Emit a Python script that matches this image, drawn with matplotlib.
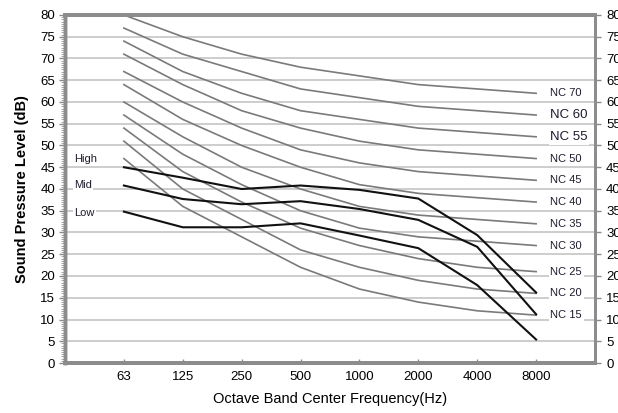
import matplotlib
matplotlib.use("Agg")
import matplotlib.pyplot as plt
import numpy as np

plt.rcParams['font.family'] = ['Liberation Sans', 'DejaVu Sans']

freqs = ["63", "125", "250", "500", "1000", "2000", "4000", "8000"]

nc_labels = ["NC 70", "NC 60", "NC 55", "NC 50", "NC 45", "NC 40",
             "NC 35", "NC 30", "NC 25", "NC 20", "NC 15"]
nc_70 = [80, 75, 71, 68, 66, 64, 63, 62]
nc_60 = [77, 71, 67, 63, 61, 59, 58, 57]
nc_55 = [74, 67, 62, 58, 56, 54, 53, 52]
nc_50 = [71, 64, 58, 54, 51, 49, 48, 47]
nc_45 = [67, 60, 54, 49, 46, 44, 43, 42]
nc_40 = [64, 56, 50, 45, 41, 39, 38, 37]
nc_35 = [60, 52, 45, 40, 36, 34, 33, 32]
nc_30 = [57, 48, 41, 35, 31, 29, 28, 27]
nc_25 = [54, 44, 37, 31, 27, 24, 22, 21]
nc_20 = [51, 40, 33, 26, 22, 19, 17, 16]
nc_15 = [47, 36, 29, 22, 17, 14, 12, 11]
nc_curves = [nc_70, nc_60, nc_55, nc_50, nc_45, nc_40,
             nc_35, nc_30, nc_25, nc_20, nc_15]
nc_big = ["NC 60", "NC 55"]

high = [45.0, 42.6, 40.0, 40.8, 39.8, 37.8, 29.4, 16.2]
mid = [40.8, 37.7, 36.5, 37.2, 35.4, 32.9, 26.7, 11.2]
low = [34.8, 31.2, 31.2, 32.1, 29.3, 26.4, 17.9, 5.4]
series_names = ["High", "Mid", "Low"]
series = [high, mid, low]
label_y = [46.8, 41.0, 34.4]

yticks = list(range(0, 81, 5))

fig = plt.figure(figsize=(6.18, 4.13), dpi=100)
ax = fig.add_axes([65/618, 1-363/413, 530/618, 348/413])

x = np.arange(len(freqs))
grid_c = "#c9c9c9"
for yv in yticks:
    ax.axhline(yv, color=grid_c, lw=1.3, zorder=1)

for lab, vals in zip(nc_labels, nc_curves):
    ax.plot(x, vals, color="#7a7a7a", lw=1.2, zorder=2)
    fs = 9.5 if lab in nc_big else 8
    ax.text(x[-1] + 0.24, vals[-1], lab, fontsize=fs, color="#1c1c2c",
            ha="left", va="center", zorder=4,
            bbox=dict(facecolor="white", edgecolor="none", pad=1.2))

for name, vals, ly in zip(series_names, series, label_y):
    ax.plot(x, vals, color="#111111", lw=1.5, zorder=3)
    ax.text(-0.85, ly, name,
            fontsize=8, color="#1c1c2c", ha="left", va="center", zorder=4,
            bbox=dict(facecolor="white", edgecolor="none", pad=1.0))

ax.set_xlim(-1, len(freqs))
ax.set_ylim(0, 80)
ax.set_xticks(x)
ax.set_xticklabels(freqs, fontsize=9.5)
ax.set_yticks(yticks)
ax.set_yticklabels([str(v) for v in yticks], fontsize=9.5)
ax.set_yticks(np.arange(0, 80.01, 0.5), minor=True)
ax.tick_params(axis="y", which="minor", length=3, width=0.6, color="#9a9a9a", direction="out")
ax.tick_params(axis="y", which="major", length=4, width=1.0, color="#8a8a8a", direction="out", pad=3)
ax.tick_params(axis="x", which="major", length=3, width=1.0, color="#8a8a8a", direction="in", pad=6)

ax2 = ax.twinx()
ax2.set_ylim(0, 80)
ax2.set_yticks(yticks)
ax2.set_yticklabels([str(v) for v in yticks], fontsize=9.5)
ax2.tick_params(axis="y", which="major", length=4, width=1.0, color="#8a8a8a", direction="out", pad=4)

for a in (ax, ax2):
    for s in a.spines.values():
        s.set_color("#8c8c8c")
    a.spines["left"].set_linewidth(2.5)
    a.spines["bottom"].set_linewidth(2.8)
    a.spines["top"].set_linewidth(2.8)
    a.spines["right"].set_linewidth(2.0)

ax.set_ylabel("Sound Pressure Level (dB)", fontsize=10.5, fontweight="bold", labelpad=8)
ax.set_xlabel("Octave Band Center Frequency(Hz)", fontsize=10.5, labelpad=6)

fig.savefig("out.png", dpi=100)
